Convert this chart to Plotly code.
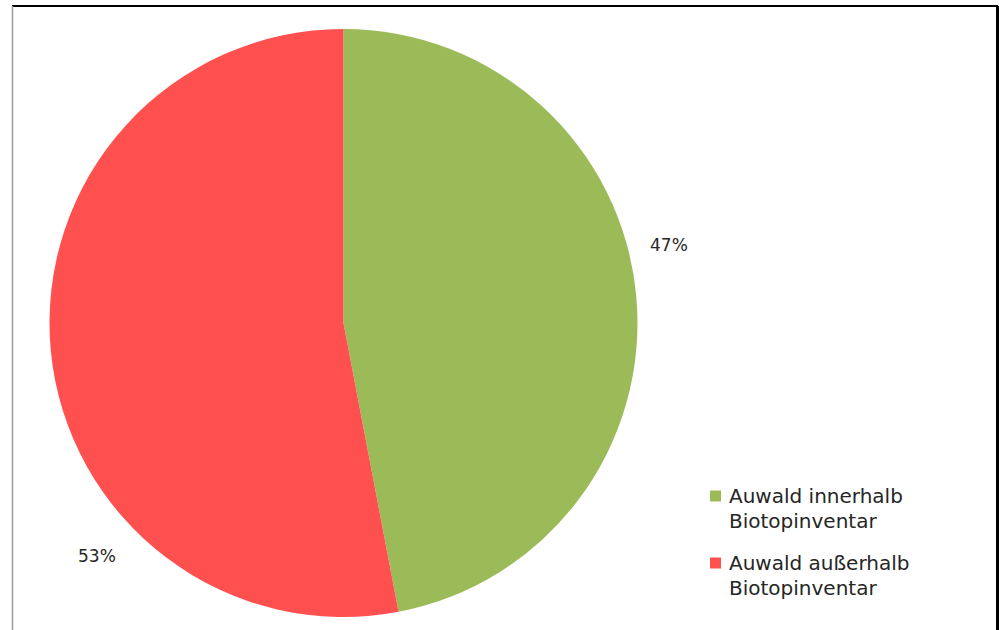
import plotly.graph_objects as go

# Anteile Auwald
labels = ["Auwald innerhalb", "Auwald außerhalb"]
sublabels = ["Biotopinventar", "Biotopinventar"]
values = [47, 53]
colors = ["#9BBB59", "#FF5050"]

W, H = 999, 630
FONT = "DejaVu Sans"
TEXT_COLOR = "#262626"


def px_x(x):
    return x / W


def px_y(y):
    return 1 - y / H


fig = go.Figure()
fig.add_trace(go.Pie(
    labels=[f"{a} {b}" for a, b in zip(labels, sublabels)],
    values=values,
    marker=dict(colors=colors, line=dict(width=0)),
    sort=False,
    direction="clockwise",
    rotation=0,
    textinfo="none",
    hoverinfo="label+percent",
    showlegend=False,
    domain=dict(x=[px_x(49.5), px_x(637.5)], y=[px_y(617), px_y(29)]),
))

# Prozentangaben neben den Segmenten
total = sum(values)
label_pos = [(669, 245), (97, 556)]
for v, (lx, ly) in zip(values, label_pos):
    fig.add_annotation(
        x=px_x(lx), y=px_y(ly), xref="paper", yref="paper",
        xanchor="center", yanchor="middle",
        text=f"{round(100 * v / total)}%", showarrow=False,
        font=dict(family=FONT, size=17, color=TEXT_COLOR),
    )

# Legende
legend_rows = [496, 563]
line_gap = 25
for name, sub, col, ry in zip(labels, sublabels, colors, legend_rows):
    fig.add_shape(type="rect", xref="paper", yref="paper",
                  x0=px_x(710), x1=px_x(721), y0=px_y(ry - 5.5), y1=px_y(ry + 5.5),
                  fillcolor=col, line=dict(width=0))
    for i, t in enumerate([name, sub]):
        fig.add_annotation(
            x=px_x(727), y=px_y(ry + i * line_gap), xref="paper", yref="paper",
            xanchor="left", yanchor="middle", text=t, showarrow=False,
            font=dict(family=FONT, size=20, color=TEXT_COLOR),
        )

# Rahmen
fig.add_shape(type="line", xref="paper", yref="paper",
              x0=px_x(12), x1=px_x(998), y0=px_y(6), y1=px_y(6),
              line=dict(color="black", width=2))
fig.add_shape(type="line", xref="paper", yref="paper",
              x0=px_x(12.5), x1=px_x(12.5), y0=px_y(6), y1=0,
              line=dict(color="#9a9a9a", width=1.5))
fig.add_shape(type="line", xref="paper", yref="paper",
              x0=px_x(997.5), x1=px_x(997.5), y0=px_y(6), y1=0,
              line=dict(color="black", width=3))

fig.update_layout(
    width=W, height=H,
    margin=dict(l=0, r=0, t=0, b=0),
    paper_bgcolor="white",
    plot_bgcolor="white",
    showlegend=False,
)

fig.write_html("out.html")
